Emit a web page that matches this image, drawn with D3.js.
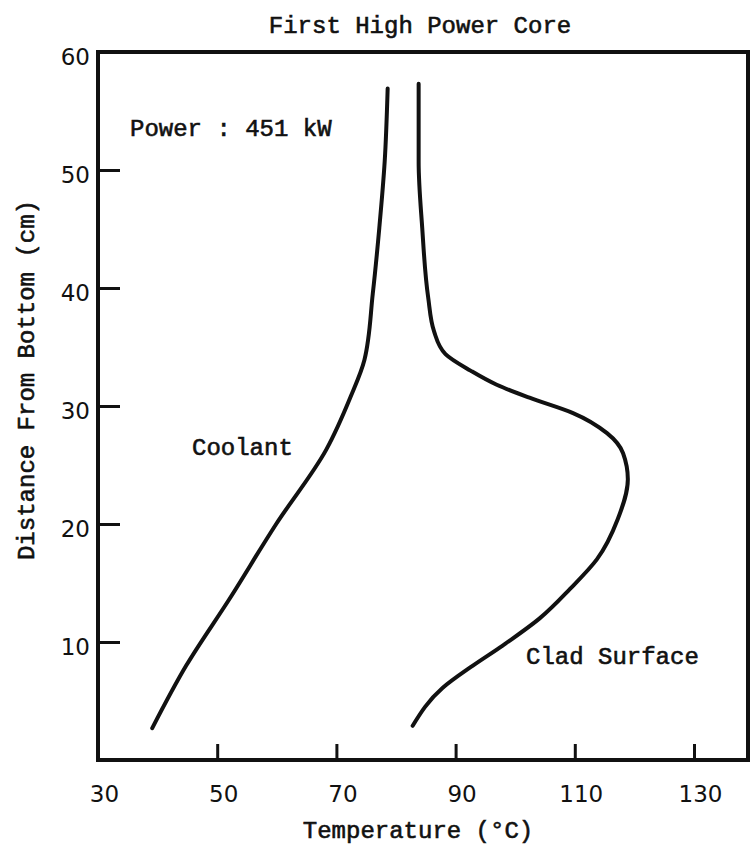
<!DOCTYPE html>
<html>
<head>
<meta charset="utf-8">
<script src="https://cdn.jsdelivr.net/npm/d3@7"></script>
<style>
  body { margin: 0; background: #fff; }
  .mono { font-family: "Liberation Mono", "DejaVu Sans Mono", monospace; font-size: 24px; fill: #111; stroke: #111; stroke-width: 0.6px; }
  .tick text { font-family: "DejaVu Sans", sans-serif; font-size: 23px; fill: #111; }
</style>
</head>
<body>
<script>
// Coolant temperature (°C) vs distance from bottom (cm)
const coolantTemp = [39.1, 44.8, 52.0, 59.9, 68.3, 72.4, 74.7, 76.1, 77.2, 78.1, 78.6];
const coolantDist = [2.7, 8.0, 13.6, 20.0, 26.3, 30.8, 33.9, 39.5, 45.1, 50.7, 56.9];

// Clad surface temperature (°C) vs distance from bottom (cm)
const cladTemp = [82.8, 87.8, 92.9, 97.9, 104.1, 109.2, 113.7, 117.2, 118.9, 118.1, 115.4, 109.7, 102.4, 96.9, 92.5, 88.3, 86.4, 85.4, 84.4, 83.8, 83.8];
const cladDist = [2.9, 6.1, 8.0, 9.7, 12.0, 14.5, 17.0, 20.4, 23.8, 26.0, 27.7, 29.4, 30.7, 31.8, 33.0, 34.4, 36.3, 39.2, 45.1, 50.7, 57.3];

const xTicks = [30, 50, 70, 90, 110, 130];
const yTicks = [10, 20, 30, 40, 50, 60];

const W = 750, H = 853;
const m = { left: 98, top: 52, right: 748, bottom: 760 };

const svg = d3.select('body').append('svg')
    .attr('width', W)
    .attr('height', H);

const x = d3.scaleLinear().domain([30, 130]).range([m.left, 694]);
const y = d3.scaleLinear().domain([0, 60]).range([m.bottom, m.top]);

// frame
svg.append('rect')
    .attr('x', m.left).attr('y', m.top)
    .attr('width', m.right - m.left).attr('height', m.bottom - m.top)
    .attr('fill', 'none').attr('stroke', '#111').attr('stroke-width', 4);

// axes
const xAxis = svg.append('g')
    .attr('transform', `translate(0,${m.bottom})`)
    .call(d3.axisBottom(x).tickValues(xTicks).tickSizeInner(-16).tickSizeOuter(0).tickPadding(26));
const yAxis = svg.append('g')
    .attr('transform', `translate(${m.left},0)`)
    .call(d3.axisLeft(y).tickValues(yTicks).tickSizeInner(-22).tickSizeOuter(0).tickPadding(30));

[xAxis, yAxis].forEach(g => {
    g.select('.domain').remove();
    g.selectAll('.tick line').attr('stroke', '#111').attr('stroke-width', 3);
});
xAxis.selectAll('.tick text').attr('dx', 6);
yAxis.selectAll('.tick text').attr('dy', '0.55em').attr('x', -8);
xAxis.selectAll('.tick').filter(d => d === 30).select('line').remove();
yAxis.selectAll('.tick').filter(d => d === 60).select('line').remove();

// curves
const line = d3.line()
    .x(d => x(d[0]))
    .y(d => y(d[1]))
    .curve(d3.curveMonotoneY);

svg.append('path')
    .datum(d3.zip(coolantTemp, coolantDist))
    .attr('d', line)
    .attr('fill', 'none').attr('stroke', '#111').attr('stroke-width', 4)
    .attr('stroke-linecap', 'round');

svg.append('path')
    .datum(d3.zip(cladTemp, cladDist))
    .attr('d', line)
    .attr('fill', 'none').attr('stroke', '#111').attr('stroke-width', 4)
    .attr('stroke-linecap', 'round');

// texts
svg.append('text').attr('class', 'mono')
    .attr('x', 420).attr('y', 33).attr('text-anchor', 'middle')
    .text('First High Power Core');

svg.append('text').attr('class', 'mono')
    .attr('x', 130).attr('y', 136)
    .text('Power : 451 kW');

svg.append('text').attr('class', 'mono')
    .attr('x', 192).attr('y', 455)
    .text('Coolant');

svg.append('text').attr('class', 'mono')
    .attr('x', 526).attr('y', 664)
    .text('Clad Surface');

svg.append('text').attr('class', 'mono')
    .attr('x', 418).attr('y', 838).attr('text-anchor', 'middle')
    .text('Temperature (°C)');

svg.append('text').attr('class', 'mono')
    .attr('transform', 'translate(34,380) rotate(-90)')
    .attr('text-anchor', 'middle')
    .text('Distance From Bottom (cm)');
</script>
</body>
</html>
